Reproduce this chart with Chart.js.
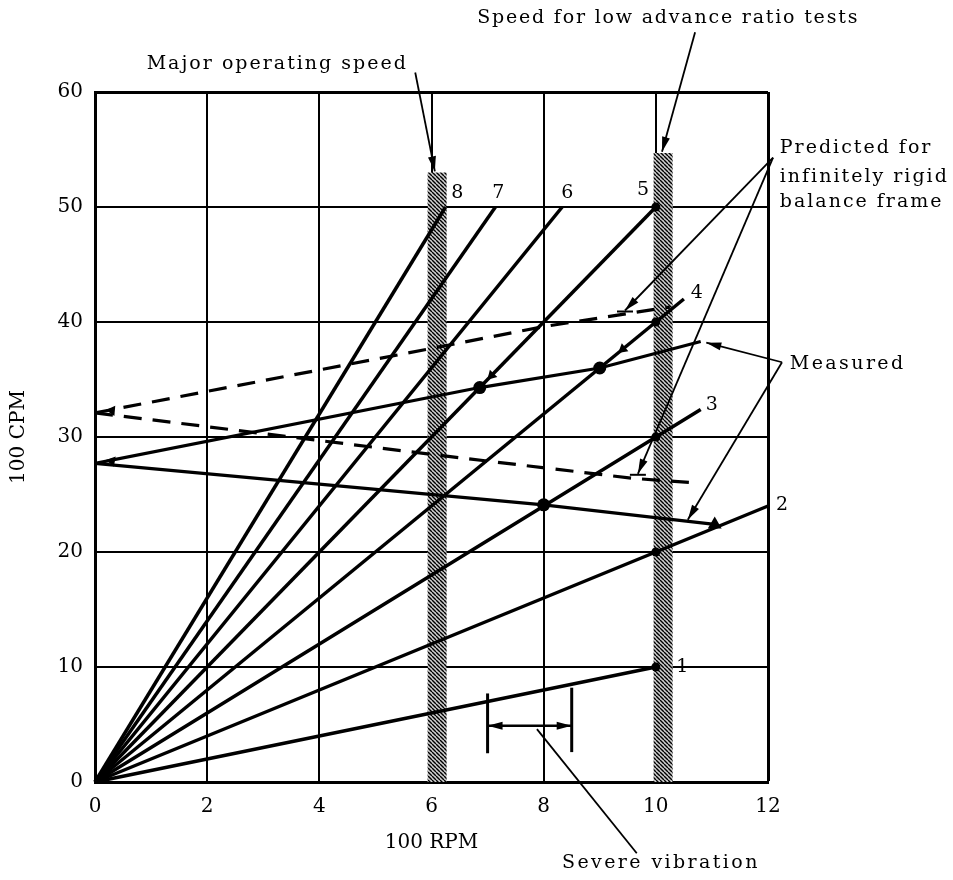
<!DOCTYPE html>
<html>
<head>
<meta charset="utf-8">
<script src="https://cdn.jsdelivr.net/npm/chart.js@4/dist/chart.umd.min.js"></script>
<style>
  html, body { margin: 0; padding: 0; background: #fff; }
  #wrap { width: 953px; height: 880px; }
</style>
</head>
<body>
<div id="wrap"><canvas id="chart" width="953" height="880"></canvas></div>
<script>
// order lines (1 to 8 per rev), end points
const orderLabels = ['1', '2', '3', '4', '5', '6', '7', '8'];
const orderEndRpm = [10, 12, 10.8, 10.5, 10, 8.33, 7.14, 6.25];
const orderEndCpm = [10, 24, 32.4, 42, 50, 50, 50, 50];

// measured
const measuredUpperRpm = [0, 6.86, 9.0, 10.8];
const measuredUpperCpm = [27.7, 34.3, 36.0, 38.3];
const measuredLowerRpm = [0, 8.0, 11.05];
const measuredLowerCpm = [27.7, 24.1, 22.4];
const measuredDotRpm = [6.86, 9.0, 8.0];
const measuredDotCpm = [34.3, 36.0, 24.1];

// predicted for infinitely rigid balance frame
const predictedUpperRpm = [0, 6, 8, 10.25];
const predictedUpperCpm = [32.1, 37.7, 39.6, 41.3];
const predictedLowerRpm = [0, 6.15, 9.6, 10.75];
const predictedLowerCpm = [32.1, 28.4, 26.4, 26.0];

// operating speeds (hatched bands)
const speedBandRpm = [6.1, 10.13];
const speedBandTop = [53.0, 54.7];
const bandDotCpm = [10, 20, 30, 40, 50];

// severe vibration range
const vibrationRpm = [7.0, 8.5];
const vibrationLow = [2.5, 2.6];
const vibrationHigh = [7.7, 8.2];
const vibrationCpm = 4.9;

const xTicks = [0, 2, 4, 6, 8, 10, 12];
const yTicks = [0, 10, 20, 30, 40, 50, 60];

const FONT = "'DejaVu Serif', serif";

function hatchPattern() {
  const c = document.createElement('canvas');
  c.width = 4; c.height = 4;
  const g = c.getContext('2d');
  g.fillStyle = '#d0d0d0';
  g.fillRect(0, 0, 4, 4);
  g.strokeStyle = '#000';
  g.lineWidth = 1.4;
  [-4, 0, 4].forEach(x0 => {
    g.beginPath(); g.moveTo(x0, 0); g.lineTo(x0 + 4, 4); g.stroke();
  });
  return g.createPattern(c, 'repeat');
}

const seg = (x0, y0, x1, y1) => [{ x: x0, y: y0 }, { x: x1, y: y1 }];
const zip = (xs, ys) => xs.map((x, i) => ({ x: x, y: ys[i] }));

const thick = { borderColor: '#000', pointRadius: 0, fill: false, tension: 0 };
const datasets = [];

const hatch = hatchPattern();
speedBandRpm.forEach((x, i) => {
  datasets.push({ ...thick, data: seg(x, 0, x, speedBandTop[i]), borderColor: hatch,
    borderWidth: 19, borderCapStyle: 'butt', order: 10 });
});

orderEndRpm.forEach((x, i) => {
  datasets.push({ ...thick, data: seg(0, 0, x, orderEndCpm[i]), borderWidth: 3.5, clip: false });
});

datasets.push({ ...thick, data: zip(measuredUpperRpm, measuredUpperCpm), borderWidth: 3.2 });
datasets.push({ ...thick, data: zip(measuredLowerRpm, measuredLowerCpm), borderWidth: 3.2, clip: false });
datasets.push({ ...thick, data: zip(predictedUpperRpm, predictedUpperCpm), borderWidth: 3.2, borderDash: [18, 11] });
datasets.push({ ...thick, data: zip(predictedLowerRpm, predictedLowerCpm), borderWidth: 3.2, borderDash: [18, 11] });

// marker dots
datasets.push({ data: zip(measuredDotRpm, measuredDotCpm), showLine: false, pointRadius: 6.5,
  pointBackgroundColor: '#000', pointBorderWidth: 0 });
datasets.push({ data: [{ x: measuredLowerRpm[2], y: measuredLowerCpm[2] }], showLine: false, pointStyle: 'triangle',
  pointRadius: 8, pointBackgroundColor: '#000', pointBorderWidth: 0, clip: false });
datasets.push({ data: bandDotCpm.map(y => ({ x: 10, y: y })), showLine: false, pointRadius: 4.5,
  pointBackgroundColor: '#000', pointBorderWidth: 0 });
// small direction heads sitting on the lines
datasets.push({ data: [{ x: 7.07, y: 35.35 }, { x: 9.41, y: 37.64 }, { x: 0.3, y: 32.3 }, { x: 0.3, y: 27.9 }],
  showLine: false, pointStyle: 'triangle', pointRadius: 6, pointRotation: [224, 231, 275, 280],
  pointBackgroundColor: '#000', pointBorderWidth: 0 });

// severe vibration marks
vibrationRpm.forEach((x, i) => {
  datasets.push({ ...thick, data: seg(x, vibrationLow[i], x, vibrationHigh[i]), borderWidth: 3 });
});
datasets.push({ ...thick, data: seg(vibrationRpm[0], vibrationCpm, vibrationRpm[1], vibrationCpm),
  borderWidth: 2.5, head: 'both' });

// leader lines for the notes
const leaders = [
  { from: [12.09, 54.3], to: [9.45, 41.0], tee: true },
  { from: [12.09, 54.3], to: [9.68, 26.8], tee: true },
  { from: [12.25, 36.5], to: [10.9, 38.2] },
  { from: [12.25, 36.5], to: [10.57, 22.8] },
  { from: [5.71, 61.7], to: [6.06, 53.1] },
  { from: [10.7, 65.2], to: [10.11, 54.8] },
  { from: [7.88, 4.6], to: [9.66, -6.2], plain: true }
];
leaders.forEach(l => {
  datasets.push({ ...thick, data: seg(l.from[0], l.from[1], l.to[0], l.to[1]), borderWidth: 1.8,
    clip: false, head: l.plain ? null : 'end', tee: !!l.tee });
});

const notes = [
  { text: 'Major operating speed', x: 3.25, y: 62.4, align: 'center', spacing: 2 },
  { text: 'Speed for low advance ratio tests', x: 10.22, y: 66.4, align: 'center', spacing: 1.8 },
  { text: 'Predicted for', x: 12.21, y: 55.1, align: 'left', spacing: 2 },
  { text: 'infinitely rigid', x: 12.21, y: 52.6, align: 'left', spacing: 2 },
  { text: 'balance frame', x: 12.21, y: 50.4, align: 'left', spacing: 2 },
  { text: 'Measured', x: 12.39, y: 36.3, align: 'left', spacing: 2.4 },
  { text: 'Severe vibration', x: 10.09, y: -7.05, align: 'center', spacing: 2.4 }
];
const orderLabelPos = [[10.47, 10], [12.25, 24.1], [11.0, 32.8], [10.73, 42.5],
  [9.77, 51.5], [8.42, 51.2], [7.19, 51.2], [6.46, 51.2]];

function drawHead(ctx, tip, from, len, half) {
  const a = Math.atan2(tip.y - from.y, tip.x - from.x);
  ctx.beginPath();
  ctx.moveTo(tip.x, tip.y);
  ctx.lineTo(tip.x - len * Math.cos(a) + half * Math.sin(a), tip.y - len * Math.sin(a) - half * Math.cos(a));
  ctx.lineTo(tip.x - len * Math.cos(a) - half * Math.sin(a), tip.y - len * Math.sin(a) + half * Math.cos(a));
  ctx.closePath();
  ctx.fill();
}

const arrowPlugin = {
  id: 'arrows',
  afterDatasetsDraw(chart) {
    const ctx = chart.ctx;
    ctx.save();
    ctx.fillStyle = '#000';
    ctx.strokeStyle = '#000';
    chart.data.datasets.forEach((ds, i) => {
      if (!ds.head) return;
      const pts = chart.getDatasetMeta(i).data;
      const a = pts[0], b = pts[pts.length - 1];
      drawHead(ctx, b, a, 15, 4);
      if (ds.head === 'both') drawHead(ctx, a, b, 15, 4);
      if (ds.tee) {
        ctx.lineWidth = 2;
        ctx.beginPath();
        ctx.moveTo(b.x - 8, b.y + 1);
        ctx.lineTo(b.x + 8, b.y + 1);
        ctx.stroke();
      }
    });
    ctx.restore();
  }
};

const notePlugin = {
  id: 'notes',
  afterDraw(chart) {
    const { ctx, scales: { x, y } } = chart;
    ctx.save();
    ctx.fillStyle = '#000';
    ctx.textBaseline = 'middle';
    ctx.font = '19px ' + FONT;
    notes.forEach(n => {
      ctx.letterSpacing = n.spacing + 'px';
      ctx.textAlign = n.align;
      ctx.fillText(n.text, x.getPixelForValue(n.x), y.getPixelForValue(n.y));
    });
    ctx.letterSpacing = '0px';
    ctx.textAlign = 'center';
    ctx.font = '19px ' + FONT;
    orderLabels.forEach((t, i) => {
      ctx.fillText(t, x.getPixelForValue(orderLabelPos[i][0]), y.getPixelForValue(orderLabelPos[i][1]));
    });
    ctx.restore();
  }
};

new Chart(document.getElementById('chart'), {
  type: 'line',
  data: { datasets: datasets },
  options: {
    responsive: false,
    animation: false,
    events: [],
    layout: { padding: { top: 92, right: 185, left: 0, bottom: 0 } },
    plugins: { legend: { display: false }, tooltip: { enabled: false } },
    scales: {
      x: {
        type: 'linear', min: 0, max: 12,
        afterBuildTicks: s => { s.ticks = xTicks.map(v => ({ value: v })); },
        afterFit: s => { s.height = 98; },
        grid: { color: '#000', lineWidth: c => (c.tick && c.tick.value === 12 ? 3 : 2), drawTicks: false },
        border: { display: true, color: '#000', width: 3 },
        ticks: { color: '#000', padding: 13, font: { family: FONT, size: 20 } },
        title: { display: true, text: '100 RPM', color: '#000', font: { family: FONT, size: 20 },
          padding: { top: 0, bottom: 25 } }
      },
      y: {
        type: 'linear', min: 0, max: 60,
        afterBuildTicks: s => { s.ticks = yTicks.map(v => ({ value: v })); },
        afterFit: s => { s.width = 95; },
        grid: { color: '#000', lineWidth: c => (c.tick && c.tick.value === 60 ? 3 : 2), drawTicks: false },
        border: { display: true, color: '#000', width: 3 },
        ticks: { color: '#000', padding: 12, font: { family: FONT, size: 20 } },
        title: { display: true, text: '100 CPM', color: '#000', font: { family: FONT, size: 20 },
          padding: { top: 7, bottom: 0 } }
      }
    }
  },
  plugins: [arrowPlugin, notePlugin]
});
</script>
</body>
</html>
